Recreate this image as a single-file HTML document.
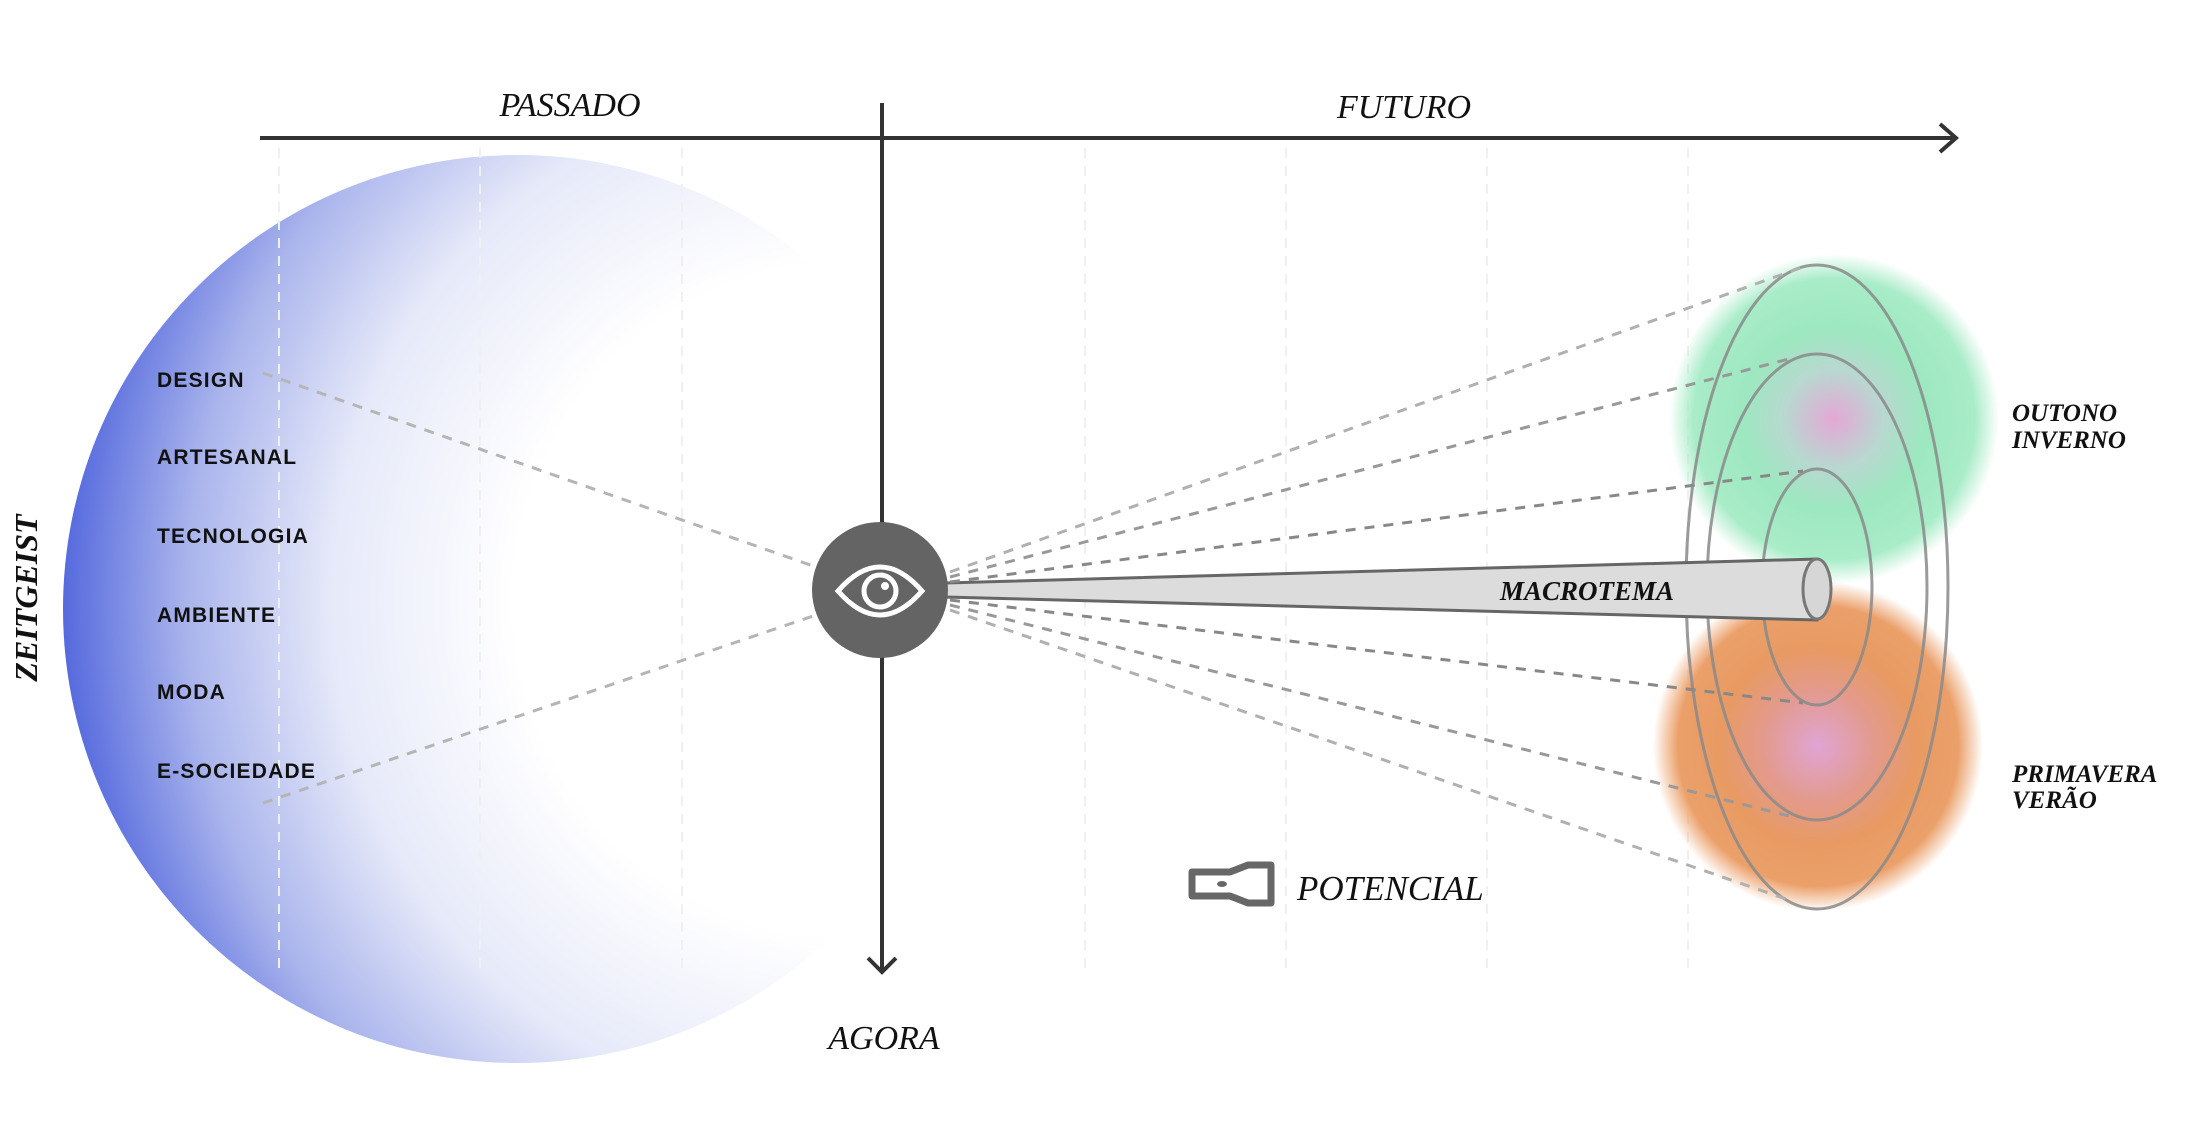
<!DOCTYPE html>
<html><head><meta charset="utf-8"><style>
html,body{margin:0;padding:0;background:#fff;}
svg{display:block;}
.serif{font-family:"Liberation Serif",serif;font-style:italic;fill:#111;}
.lab{font-family:"Liberation Sans",sans-serif;font-weight:bold;font-size:21px;letter-spacing:1.2px;fill:#111;}
</style></head><body>
<svg width="2195" height="1143" viewBox="0 0 2195 1143" xmlns="http://www.w3.org/2000/svg">
<defs>
<radialGradient id="bg" cx="850" cy="600" r="800" gradientUnits="userSpaceOnUse">
<stop offset="0" stop-color="#ffffff"/>
<stop offset="0.42" stop-color="#ffffff"/>
<stop offset="0.65" stop-color="#e6e9f9"/>
<stop offset="0.83" stop-color="#a9b4ec"/>
<stop offset="1" stop-color="#4d62dc"/>
</radialGradient>
<clipPath id="cc"><rect x="0" y="0" width="830" height="1143"/></clipPath>
<radialGradient id="gr" cx="0.5" cy="0.5" r="0.5">
<stop offset="0" stop-color="#e4a8d6"/>
<stop offset="0.3" stop-color="#b8d8d0"/>
<stop offset="0.55" stop-color="#9de8c0"/>
<stop offset="0.85" stop-color="#a8ecc8"/>
<stop offset="1" stop-color="#a8ecc8" stop-opacity="0"/>
</radialGradient>
<radialGradient id="or" cx="0.5" cy="0.5" r="0.5">
<stop offset="0" stop-color="#e0a4d4"/>
<stop offset="0.35" stop-color="#e39a8a"/>
<stop offset="0.6" stop-color="#e89a62"/>
<stop offset="0.85" stop-color="#eba06a"/>
<stop offset="1" stop-color="#eba06a" stop-opacity="0"/>
</radialGradient>
</defs>

<circle cx="517" cy="609" r="454" fill="url(#bg)" clip-path="url(#cc)"/>

<g stroke="#f0f0f0" stroke-width="2" stroke-dasharray="10 8">
<line x1="279" y1="148" x2="279" y2="975"/>
<line x1="480" y1="148" x2="480" y2="975"/>
<line x1="682" y1="148" x2="682" y2="975"/>
<line x1="1085" y1="148" x2="1085" y2="975"/>
<line x1="1286" y1="148" x2="1286" y2="975"/>
<line x1="1487" y1="148" x2="1487" y2="975"/>
<line x1="1688" y1="148" x2="1688" y2="975"/>
</g>

<circle cx="1834" cy="419" r="165" fill="url(#gr)"/>
<circle cx="1818" cy="746" r="165" fill="url(#or)"/>

<g fill="none" stroke="#8a8a8a" stroke-width="3" opacity="0.85">
<ellipse cx="1817" cy="587" rx="131" ry="322"/>
<ellipse cx="1817" cy="587" rx="110" ry="233"/>
<ellipse cx="1817" cy="587" rx="55" ry="118"/>
</g>

<polygon points="945,583 1817,559 1817,620 945,597" fill="#dcdcdc" stroke="#666" stroke-width="3"/>
<ellipse cx="1817" cy="589" rx="14" ry="30" fill="#d6d6d6" stroke="#777" stroke-width="3"/>

<g fill="none" stroke-width="3" stroke-dasharray="10 9">
<line x1="950" y1="572" x2="1803" y2="267" stroke="#b0b0b0"/>
<line x1="950" y1="577" x2="1789" y2="359" stroke="#999"/>
<line x1="950" y1="582" x2="1803" y2="471" stroke="#888"/>
<line x1="950" y1="600" x2="1803" y2="703" stroke="#888"/>
<line x1="950" y1="605" x2="1789" y2="816" stroke="#999"/>
<line x1="950" y1="610" x2="1789" y2="900" stroke="#b0b0b0"/>
<line x1="263" y1="373" x2="816" y2="567" stroke="#b5b5b5"/>
<line x1="263" y1="803" x2="816" y2="615" stroke="#b5b5b5"/>
</g>

<g stroke="#333" stroke-width="4" fill="none">
<line x1="260" y1="138" x2="1956" y2="138"/>
<polyline points="1940,124 1956,138 1940,152"/>
<line x1="882" y1="103" x2="882" y2="973"/>
<polyline points="868,958 882,972 896,958"/>
</g>

<circle cx="880" cy="590" r="68" fill="#646464"/>
<path d="M838,591 Q880,543 922,591 Q880,639 838,591 Z" fill="none" stroke="#fff" stroke-width="5"/>
<circle cx="880" cy="591" r="16" fill="none" stroke="#fff" stroke-width="5"/>
<circle cx="885" cy="586" r="4" fill="#fff"/>

<path d="M1192,872 L1230,872 L1248,865 L1271,865 L1271,903 L1248,903 L1230,896 L1192,896 Z" fill="none" stroke="#676767" stroke-width="7" stroke-linejoin="round"/>
<ellipse cx="1222" cy="884" rx="5" ry="3" fill="#676767"/>

<text class="serif" x="570" y="116" font-size="34" text-anchor="middle">PASSADO</text>
<text class="serif" x="1404" y="118" font-size="34" text-anchor="middle">FUTURO</text>
<text class="serif" x="884" y="1049" font-size="34" text-anchor="middle">AGORA</text>
<text class="serif" x="1587" y="600" font-size="27" font-weight="bold" text-anchor="middle">MACROTEMA</text>
<text class="serif" x="1297" y="900" font-size="35">POTENCIAL</text>
<text class="serif" x="2012" y="421" font-size="25" font-weight="bold">OUTONO</text>
<text class="serif" x="2012" y="448" font-size="25" font-weight="bold">INVERNO</text>
<text class="serif" x="2012" y="782" font-size="25" font-weight="bold">PRIMAVERA</text>
<text class="serif" x="2012" y="808" font-size="25" font-weight="bold">VERÃO</text>
<text class="serif" font-size="32" font-weight="bold" transform="translate(37,598) rotate(-90)" text-anchor="middle">ZEITGEIST</text>

<text class="lab" x="157" y="387">DESIGN</text>
<text class="lab" x="157" y="464">ARTESANAL</text>
<text class="lab" x="157" y="543">TECNOLOGIA</text>
<text class="lab" x="157" y="622">AMBIENTE</text>
<text class="lab" x="157" y="699">MODA</text>
<text class="lab" x="157" y="778">E-SOCIEDADE</text>
</svg>
</body></html>
